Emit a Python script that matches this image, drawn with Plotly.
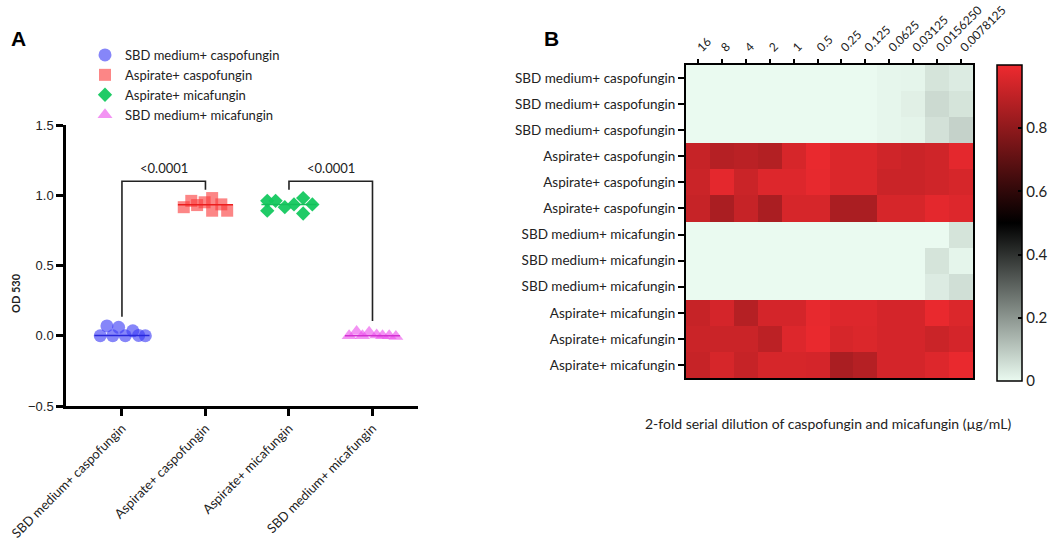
import numpy as np
import plotly.graph_objects as go

W, H = 1052, 541
FONT = "Lato"
TXT = "#222222"

# ---------------- Panel A data ----------------
groups = ["SBD medium+ caspofungin", "Aspirate+ caspofungin",
          "Aspirate+ micafungin", "SBD medium+ micafungin"]
sbd_casp = [0.0, 0.07, 0.0, 0.06, 0.0, 0.035, 0.002, 0.0]
asp_casp = [0.915, 0.96, 0.93, 0.95, 0.98, 0.89, 0.935, 0.89]
asp_mica = [0.96, 0.96, 0.89, 0.915, 0.935, 0.98, 0.87, 0.935]
sbd_mica = [0.0, 0.03, 0.0, 0.025, 0.005, 0.0, 0.0, -0.005]
y_ticks = [-0.5, 0.0, 0.5, 1.0, 1.5]
p_label = "<0.0001"
comparisons = [(0, 1), (2, 3)]
bracket_level = 1.10
bracket_legs = [(0.135, 1.04), (1.04, 0.105)]

# swarm spreading (layout, in category units)
swarm = [
    [-0.26, -0.18, -0.11, -0.04, 0.04, 0.13, 0.20, 0.28],
    [-0.26, -0.17, -0.10, -0.01, 0.08, 0.08, 0.19, 0.26],
    [-0.26, -0.16, -0.26, -0.05, 0.06, 0.17, 0.17, 0.28],
    [-0.28, -0.19, -0.12, -0.04, 0.05, 0.12, 0.20, 0.28],
]

series = [sbd_casp, asp_casp, asp_mica, sbd_mica]
symbols = ["circle", "square", "diamond", "triangle-up"]
colors = ["rgba(60,60,245,0.62)", "rgba(250,60,60,0.62)",
          "rgba(20,200,95,0.95)", "rgba(235,80,235,0.62)"]
line_colors = ["rgb(40,40,220)", "rgb(235,30,30)", "rgb(20,190,90)", "rgb(210,50,210)"]
sizes = [13, 12, 11, 13]

# ---------------- Panel B data ----------------
dilutions = ["16", "8", "4", "2", "1", "0.5", "0.25", "0.125", "0.0625",
             "0.03125", "0.0156250", "0.0078125"]
row_labels = (["SBD medium+ caspofungin"] * 3 + ["Aspirate+ caspofungin"] * 3 +
              ["SBD medium+ micafungin"] * 3 + ["Aspirate+ micafungin"] * 3)
od_matrix = [
    [0, 0, 0, 0, 0, 0, 0, 0, 0.008, 0.010, 0.045, 0.030],
    [0, 0, 0, 0, 0, 0, 0, 0, 0.008, 0.020, 0.065, 0.045],
    [0, 0, 0, 0, 0, 0, 0, 0, 0.008, 0.013, 0.050, 0.080],
    [0.917, 0.880, 0.890, 0.875, 0.950, 0.990, 0.960, 0.960, 0.935, 0.925, 0.935, 0.980],
    [0.925, 0.980, 0.925, 0.965, 0.965, 0.985, 0.960, 0.960, 0.925, 0.925, 0.935, 0.950],
    [0.917, 0.857, 0.917, 0.857, 0.950, 0.950, 0.857, 0.857, 0.950, 0.950, 0.980, 0.965],
    [0, 0, 0, 0, 0, 0, 0, 0, 0, 0, 0, 0.045],
    [0, 0, 0, 0, 0, 0, 0, 0, 0, 0, 0.045, 0.010],
    [0, 0, 0, 0, 0, 0, 0, 0, 0, 0, 0.030, 0.055],
    [0.917, 0.945, 0.880, 0.945, 0.945, 0.985, 0.965, 0.965, 0.945, 0.945, 0.990, 0.960],
    [0.925, 0.925, 0.925, 0.895, 0.965, 0.990, 0.950, 0.960, 0.945, 0.945, 0.925, 0.945],
    [0.917, 0.950, 0.917, 0.950, 0.950, 0.945, 0.857, 0.880, 0.945, 0.945, 0.965, 0.990],
]
cbar_ticks = [0, 0.2, 0.4, 0.6, 0.8]
x_title_B = "2-fold serial dilution of caspofungin and micafungin (µg/mL)"


def px_x(p):
    return p / W


def px_y(p):
    return 1 - p / H


fig = go.Figure()

# scatter groups
for i, (vals, off) in enumerate(zip(series, swarm)):
    fig.add_trace(go.Scatter(
        x=[i + o for o in off], y=vals, mode="markers", name=groups[i],
        marker=dict(symbol=symbols[i], size=sizes[i], color=colors[i], line=dict(width=0)),
        xaxis="x", yaxis="y"))
for i, vals in enumerate(series):
    m = float(np.median(vals))
    fig.add_trace(go.Scatter(
        x=[i - 0.33, i + 0.33], y=[m, m], mode="lines", showlegend=False,
        line=dict(color=line_colors[i], width=1.5), xaxis="x", yaxis="y",
        hoverinfo="skip"))

# heatmap
fig.add_trace(go.Heatmap(
    z=od_matrix, x=list(range(len(dilutions))), y=list(range(len(row_labels))),
    xaxis="x2", yaxis="y2", zmin=0, zmax=1.0,
    colorscale=[[0, "rgb(234,250,240)"], [0.5, "rgb(0,0,0)"], [1, "rgb(238,42,47)"]],
    showscale=True,
    colorbar=dict(
        x=px_x(997), xanchor="left", y=px_y(223), yanchor="middle",
        len=316, lenmode="pixels", thickness=25, thicknessmode="pixels",
        xpad=0, ypad=0,
        outlinecolor="black", outlinewidth=1.5,
        tickvals=cbar_ticks, ticktext=[("%g" % t) for t in cbar_ticks],
        ticks="inside", ticklen=4, tickwidth=1.5, tickcolor="black",
        tickfont=dict(family=FONT, size=15, color=TXT)),
))

shapes = []
annotations = []
# brackets
for (a, b), (la, lb) in zip(comparisons, bracket_legs):
    shapes.append(dict(type="path", xref="x", yref="y",
                       path=f"M {a},{la} L {a},{bracket_level} L {b},{bracket_level} L {b},{lb}",
                       line=dict(color="#222", width=1.6)))
    annotations.append(dict(x=(a + b) / 2, y=bracket_level, xref="x", yref="y",
                            text=p_label, showarrow=False, xanchor="center",
                            yanchor="bottom", yshift=3,
                            font=dict(family=FONT, size=13, color=TXT)))

annotations += [
    dict(x=px_x(18), y=px_y(38), xref="paper", yref="paper", text="<b>A</b>",
         xanchor="center", yanchor="middle",
         showarrow=False, font=dict(family="Liberation Sans", size=21, color="black")),
    dict(x=px_x(551), y=px_y(38), xref="paper", yref="paper", text="<b>B</b>",
         xanchor="center", yanchor="middle",
         showarrow=False, font=dict(family="Liberation Sans", size=21, color="black")),
    dict(x=px_x(15), y=px_y(293), xref="paper", yref="paper", text="<b>OD 530</b>",
         xanchor="center", yanchor="middle",
         textangle=-90, showarrow=False, font=dict(family=FONT, size=11, color=TXT)),
    dict(x=px_x(828), y=px_y(423), xref="paper", yref="paper", text=x_title_B,
         xanchor="center", yanchor="middle",
         showarrow=False, font=dict(family=FONT, size=14, color=TXT)),
]

fig.update_layout(
    width=W, height=H, margin=dict(l=0, r=0, t=0, b=0, autoexpand=False),
    paper_bgcolor="white", plot_bgcolor="white",
    font=dict(family=FONT, color=TXT),
    showlegend=True,
    legend=dict(x=px_x(85), y=px_y(40), xanchor="left", yanchor="top",
                font=dict(family=FONT, size=13, color=TXT), bgcolor="rgba(0,0,0,0)",
                tracegroupgap=0, itemsizing="trace"),
    xaxis=dict(domain=[px_x(66), px_x(418)], range=[-0.67, 3.545],
               tickvals=list(range(len(groups))), ticktext=groups, tickangle=-45,
               showline=True, linecolor="black", linewidth=2.5,
               ticks="outside", ticklen=7, tickwidth=2.5, tickcolor="black",
               showgrid=False, zeroline=False, automargin=False,
               ticklabeloverflow="allow",
               tickfont=dict(family=FONT, size=13, color=TXT), anchor="y"),
    yaxis=dict(domain=[px_y(406), px_y(125)], range=[-0.5, 1.5],
               tickvals=y_ticks, tickformat=".1f",
               showline=True, linecolor="black", linewidth=2.5,
               ticks="outside", ticklen=7, tickwidth=2.5, tickcolor="black",
               showgrid=False, zeroline=False, automargin=False,
               tickfont=dict(family="Liberation Sans", size=13, color=TXT), anchor="x"),
    xaxis2=dict(domain=[px_x(686), px_x(973)], range=[-0.5, len(dilutions) - 0.5],
                side="top", tickvals=list(range(len(dilutions))), ticktext=dilutions,
                tickangle=-45, showline=True, mirror=True, linecolor="black", linewidth=2,
                ticks="outside", ticklen=4, tickwidth=1.5, tickcolor="black",
                showgrid=False, zeroline=False, automargin=False,
                tickfont=dict(family=FONT, size=12, color=TXT), anchor="y2"),
    yaxis2=dict(domain=[px_y(378), px_y(65)], range=[len(row_labels) - 0.5, -0.5],
                tickvals=list(range(len(row_labels))), ticktext=row_labels,
                showline=True, mirror=True, linecolor="black", linewidth=2,
                ticks="outside", ticklen=6, tickwidth=1.5, tickcolor="black",
                showgrid=False, zeroline=False, automargin=False,
                tickfont=dict(family=FONT, size=13.5, color=TXT), anchor="x2"),
    shapes=shapes, annotations=annotations,
)

fig.write_html("out.html", config={"displayModeBar": False},
               post_script="document.body.style.margin='0';document.body.style.overflow='hidden';")
